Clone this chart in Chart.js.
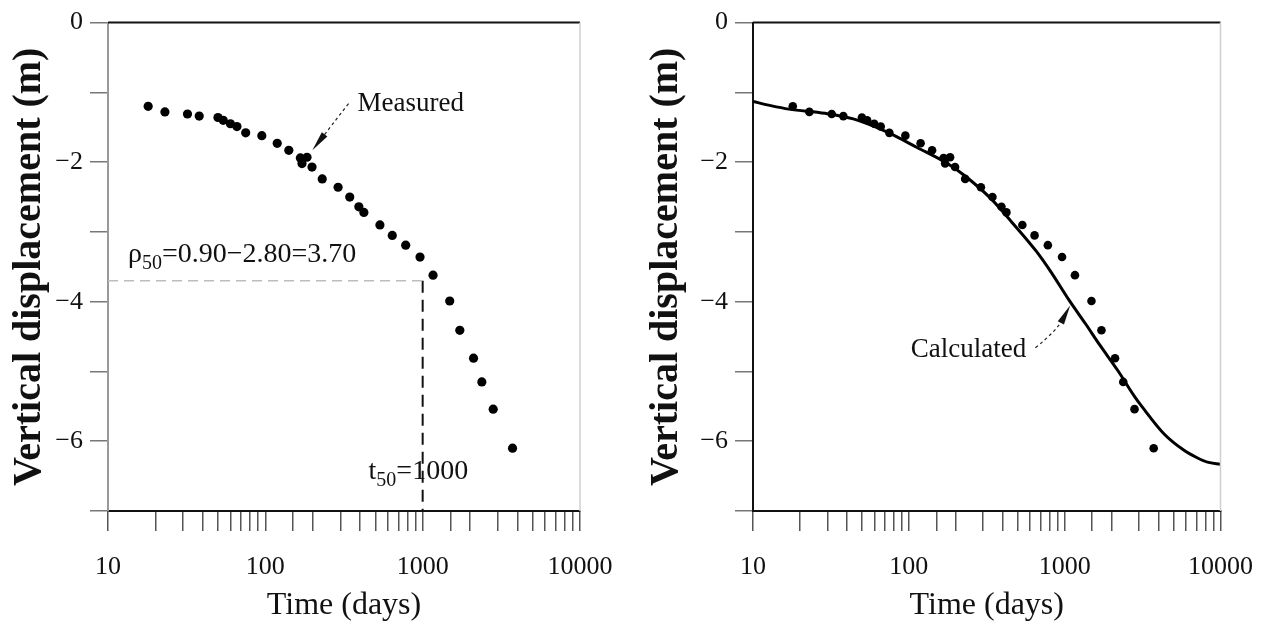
<!DOCTYPE html>
<html>
<head>
<meta charset="utf-8">
<script src="https://cdn.jsdelivr.net/npm/chart.js@4.4.1/dist/chart.umd.min.js"></script>
<style>
  html, body { margin: 0; padding: 0; background: #fff; }
  #wrap { position: relative; width: 1274px; height: 630px; }
  #wrap canvas { position: absolute; top: 0; }
</style>
</head>
<body>
<div id="wrap">
  <canvas id="left" width="637" height="630" style="left:0"></canvas>
  <canvas id="right" width="637" height="630" style="left:637px"></canvas>
</div>
<script>
// measured settlement (days, m)
const measuredDays = [18, 23, 32, 38, 50, 54, 60, 66, 75, 95, 119, 141, 167, 184, 171, 198, 230, 290, 344, 393, 423, 535, 641, 780, 962, 1164, 1486, 1722, 2105, 2377, 2807, 3726];
const measuredDisp = [-1.20, -1.28, -1.31, -1.34, -1.36, -1.40, -1.45, -1.49, -1.58, -1.62, -1.73, -1.83, -1.94, -1.93, -2.02, -2.07, -2.24, -2.36, -2.50, -2.64, -2.72, -2.90, -3.05, -3.19, -3.36, -3.62, -3.99, -4.41, -4.81, -5.15, -5.54, -6.10];

// calculated curve (right panel)
const calcDays = [10, 13, 17, 29, 44, 71, 113, 180, 233, 335, 458, 659, 820, 1054, 1364, 1679, 2198, 2811, 3126, 4365, 5833, 7129, 8248, 10000];
const calcDisp = [-1.13, -1.19, -1.24, -1.30, -1.38, -1.56, -1.79, -2.03, -2.21, -2.52, -2.86, -3.28, -3.58, -3.96, -4.32, -4.62, -4.99, -5.36, -5.50, -5.90, -6.13, -6.24, -6.30, -6.33];

const xTickLabels = [10, 100, 1000, 10000];
const yTickLabels = [0, -2, -4, -6];

// half-settlement construction
const rho50 = -3.70;
const t50 = 1000;

const FAMILY = 'Liberation Serif';

function pts(xs, ys) {
  return xs.map((v, i) => ({ x: v, y: ys[i] }));
}

function drawRich(ctx, x, y, parts, size) {
  ctx.textAlign = 'left';
  ctx.textBaseline = 'middle';
  ctx.fillStyle = '#111';
  let cx = x;
  parts.forEach(p => {
    if (p.sub) {
      ctx.font = Math.round(size * 0.72) + 'px ' + FAMILY;
      ctx.fillText(p.t, cx, y + size * 0.3);
    } else {
      ctx.font = size + 'px ' + FAMILY;
      ctx.fillText(p.t, cx, y);
    }
    cx += ctx.measureText(p.t).width;
  });
}

function arrow(ctx, x1, y1, x2, y2, bend) {
  const mx = (x1 + x2) / 2 + (bend || 0), my = (y1 + y2) / 2 + (bend || 0);
  const ang = Math.atan2(y2 - my, x2 - mx);
  const hx = x2 - Math.cos(ang) * 16, hy = y2 - Math.sin(ang) * 16;
  ctx.strokeStyle = '#222';
  ctx.lineWidth = 1.2;
  ctx.setLineDash([3, 3]);
  ctx.beginPath();
  ctx.moveTo(x1, y1);
  ctx.quadraticCurveTo(mx, my, hx, hy);
  ctx.stroke();
  ctx.setLineDash([]);
  ctx.fillStyle = '#111';
  ctx.beginPath();
  ctx.moveTo(x2, y2);
  ctx.lineTo(x2 - Math.cos(ang) * 20 - Math.sin(ang) * 3.5, y2 - Math.sin(ang) * 20 + Math.cos(ang) * 3.5);
  ctx.lineTo(x2 - Math.cos(ang) * 20 + Math.sin(ang) * 3.5, y2 - Math.sin(ang) * 20 - Math.cos(ang) * 3.5);
  ctx.closePath();
  ctx.fill();
}

const notesPlugin = {
  id: 'notes',
  afterDatasetsDraw(chart, args, opts) {
    const { ctx, chartArea: a, scales: { x, y } } = chart;
    ctx.save();
    // top and right frame
    ctx.strokeStyle = '#111';
    ctx.lineWidth = 2;
    ctx.beginPath();
    ctx.moveTo(a.left, a.top);
    ctx.lineTo(a.right, a.top);
    ctx.stroke();
    ctx.strokeStyle = '#cfcfcf';
    ctx.lineWidth = 1.5;
    ctx.beginPath();
    ctx.moveTo(a.right, a.top);
    ctx.lineTo(a.right, a.bottom);
    ctx.stroke();
    (opts.items || []).forEach(it => {
      if (it.kind === 'text') {
        drawRich(ctx, x.getPixelForValue(it.x), y.getPixelForValue(it.y), it.parts, it.size);
      } else if (it.kind === 'arrow') {
        arrow(ctx, x.getPixelForValue(it.x1), y.getPixelForValue(it.y1),
          x.getPixelForValue(it.x2), y.getPixelForValue(it.y2), it.bend);
      }
    });
    ctx.restore();
  }
};

function isDecade(v) {
  const l = Math.log10(v);
  return Math.abs(l - Math.round(l)) < 1e-9;
}

function buildOptions(o) {
  return {
    responsive: false,
    animation: false,
    layout: { padding: { left: 0, top: 22, right: o.padRight, bottom: 0 } },
    plugins: {
      legend: { display: false },
      tooltip: { enabled: false },
      notes: { items: o.items }
    },
    scales: {
      x: {
        type: 'logarithmic',
        min: 10,
        max: 10000,
        afterFit: s => { s.height = 119; },
        border: { color: '#111', width: 2 },
        grid: { drawOnChartArea: false, tickLength: 20, color: '#555', lineWidth: 1.5 },
        ticks: {
          autoSkip: false,
          maxRotation: 0,
          padding: 21,
          color: '#111',
          font: { family: FAMILY, size: 26 },
          callback: v => (isDecade(v) && xTickLabels.includes(Math.round(v))) ? String(Math.round(v)) : ''
        },
        title: {
          display: true,
          text: 'Time (days)',
          color: '#111',
          font: { family: FAMILY, size: 32 },
          padding: { top: 0, bottom: 5 }
        }
      },
      y: {
        min: -7,
        max: 0,
        afterFit: s => { s.width = o.yWidth; },
        border: { color: o.yBorder, width: 2 },
        grid: { drawOnChartArea: false, tickLength: 18, color: '#777', lineWidth: 1.5 },
        ticks: {
          stepSize: 1,
          padding: 7,
          color: '#111',
          font: { family: FAMILY, size: 26 },
          callback: v => yTickLabels.includes(v) ? String(v).replace('-', '\u2212') : ''
        },
        title: {
          display: true,
          text: 'Vertical displacement (m)',
          color: '#111',
          font: { family: FAMILY, size: 40, weight: 'bold' },
          padding: { top: 6, bottom: 0 }
        }
      }
    }
  };
}

const measuredSet = r => ({
  label: 'Measured',
  data: pts(measuredDays, measuredDisp),
  pointRadius: r,
  pointBackgroundColor: '#000',
  pointBorderWidth: 0,
  showLine: false
});

new Chart(document.getElementById('left'), {
  type: 'scatter',
  data: {
    datasets: [
      {
        label: 'rho50',
        data: [{ x: 10, y: rho50 }, { x: t50, y: rho50 }],
        showLine: true,
        borderColor: '#bdbdbd',
        borderWidth: 1.5,
        borderDash: [10, 6],
        pointRadius: 0
      },
      {
        label: 't50',
        data: [{ x: t50, y: rho50 }, { x: t50, y: -7 }],
        showLine: true,
        borderColor: '#111',
        borderWidth: 2,
        borderDash: [12, 7],
        pointRadius: 0
      },
      measuredSet(4.6)
    ]
  },
  options: buildOptions({
    yWidth: 108,
    padRight: 57,
    yBorder: '#999',
    items: [
      { kind: 'text', x: 385, y: -1.16, size: 27, parts: [{ t: 'Measured' }] },
      { kind: 'arrow', x1: 338, y1: -1.16, x2: 199, y2: -1.83, bend: 0 },
      { kind: 'text', x: 13.4, y: -3.33, size: 28, parts: [{ t: '\u03c1' }, { t: '50', sub: true }, { t: '=0.90\u22122.80=3.70' }] },
      { kind: 'text', x: 453, y: -6.44, size: 28, parts: [{ t: 't' }, { t: '50', sub: true }, { t: '=1000' }] }
    ]
  }),
  plugins: [notesPlugin]
});

new Chart(document.getElementById('right'), {
  type: 'scatter',
  data: {
    datasets: [
      {
        label: 'Calculated',
        data: pts(calcDays, calcDisp),
        showLine: true,
        borderColor: '#000',
        borderWidth: 3,
        cubicInterpolationMode: 'monotone',
        pointRadius: 0
      },
      measuredSet(4.3)
    ]
  },
  options: buildOptions({
    yWidth: 116,
    padRight: 51,
    yBorder: '#111',
    items: [
      { kind: 'text', x: 103, y: -4.69, size: 27, parts: [{ t: 'Calculated' }] },
      { kind: 'arrow', x1: 649, y1: -4.66, x2: 1086, y2: -4.05, bend: 4 }
    ]
  }),
  plugins: [notesPlugin]
});
</script>
</body>
</html>
